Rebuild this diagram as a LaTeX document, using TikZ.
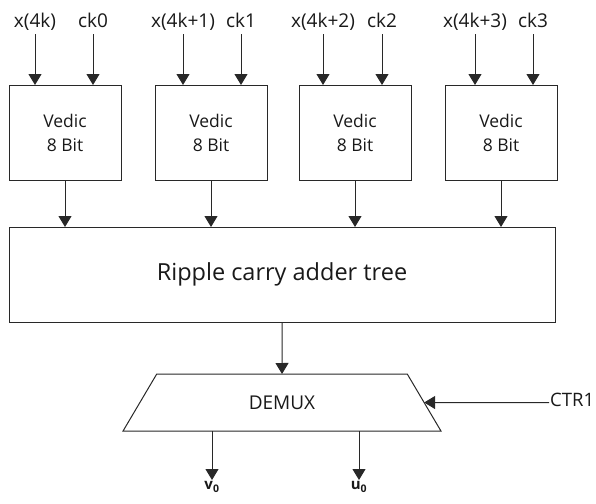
\documentclass[tikz,border=0pt]{standalone}
\usepackage{fontspec}
\setmainfont{Open Sans}
\usepackage{tikz}
\usetikzlibrary{arrows.meta,positioning,shapes.geometric}
\definecolor{wire}{RGB}{40,40,40}
\definecolor{inktext}{RGB}{25,25,25}
\tikzset{
  vedicbox/.style={
    draw=wire,line width=1pt,align=center,minimum width=112pt,
    minimum height=95pt,inner sep=0pt,outer sep=0pt,text=inktext,
    font=\fontsize{17.5}{24}\selectfont
  },
  adderbox/.style={vedicbox,minimum width=546pt,font=\fontsize{23.5}{28}\selectfont},
  demuxbox/.style={
    draw=wire,line width=1pt,trapezium,trapezium angle=57,
    trapezium stretches=true,minimum width=320pt,minimum height=57pt,
    inner sep=0pt,outer sep=0pt,text=inktext,font=\fontsize{19}{22}\selectfont
  },
  siglabel/.style={
    inner sep=1pt,text height=12pt,text depth=5pt,text=inktext,
    font=\fontsize{19}{21}\selectfont
  },
  outlabel/.style={inner sep=1pt,text=inktext,font=\fontsize{15}{18}\selectfont\bfseries},
  sigarrow/.style={-{Triangle[length=11pt,width=13pt]},line width=1pt,draw=wire}
}
\begin{document}
\begin{tikzpicture}[x=1pt,y=1pt]
  \useasboundingbox (0,0) rectangle (596,-503);
  % multiplier blocks
  \node[vedicbox] (vedic0) at (65,-132.5) {Vedic\\8 Bit};
  \node[vedicbox] (vedic1) at (211,-132.5) {Vedic\\8 Bit};
  \node[vedicbox] (vedic2) at (355,-132.5) {Vedic\\8 Bit};
  \node[vedicbox] (vedic3) at (501,-132.5) {Vedic\\8 Bit};
  % sample and clock inputs
  \node[siglabel] (xin0) at (35,-24.5) {x(4k)};
  \node[siglabel] (ck0) at (93,-24.5) {ck0};
  \node[siglabel] (xin1) at (183,-24.5) {x(4k+1)};
  \node[siglabel] (ck1) at (241,-24.5) {ck1};
  \node[siglabel] (xin2) at (323,-24.5) {x(4k+2)};
  \node[siglabel] (ck2) at (382,-24.5) {ck2};
  \node[siglabel] (xin3) at (475,-24.5) {x(4k+3)};
  \node[siglabel] (ck3) at (533,-24.5) {ck3};
  \foreach \n in {xin0,ck0,xin1,ck1,xin2,ck2,xin3,ck3}
    \draw[sigarrow] (\n.south) -- (\n.south |- vedic0.north);
  % adder and demultiplexer
  \node[adderbox] (adder) at (282,-274.5) {Ripple carry adder tree};
  \foreach \n in {vedic0,vedic1,vedic2,vedic3}
    \draw[sigarrow] (\n.south) -- (\n.south |- adder.north);
  \node[demuxbox] (demux) at (282,-402.5) {DEMUX};
  \draw[sigarrow] (adder.south) -- (demux.north);
  \node[siglabel,anchor=west,font=\fontsize{18.5}{21}\selectfont] (ctrl) at (549,-402.5) {CTR1};
  \draw[sigarrow] (ctrl.west) -- (demux.east);
  % outputs
  \node[outlabel,anchor=north] (vout) at (212,-480) {v\textsubscript{0}};
  \node[outlabel,anchor=north] (uout) at (359,-480) {u\textsubscript{0}};
  \draw[sigarrow] (vout.north |- demux.south) -- (vout.north);
  \draw[sigarrow] (uout.north |- demux.south) -- (uout.north);
\end{tikzpicture}
\end{document}
